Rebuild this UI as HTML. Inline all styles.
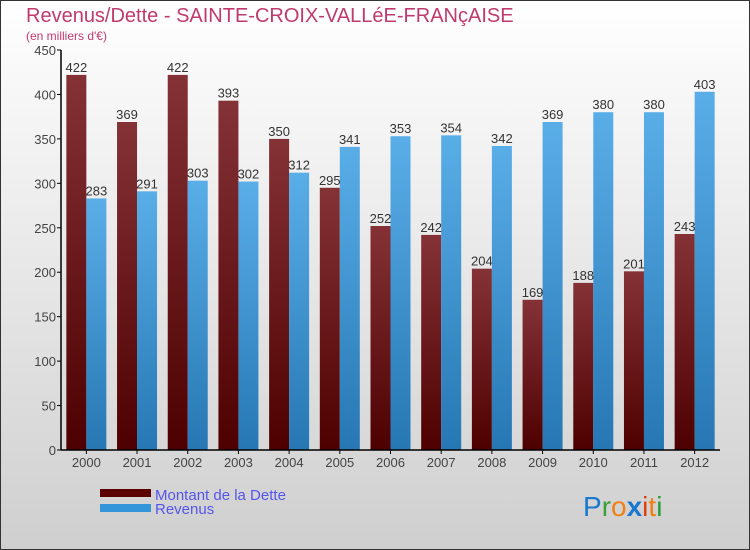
<!DOCTYPE html>
<html><head><meta charset="utf-8"><style>
body{margin:0}
#c{width:750px;height:550px;position:relative;overflow:hidden}
</style></head><body>
<div id="c">
<svg id="s" width="750" height="550" xmlns="http://www.w3.org/2000/svg" font-family="'Liberation Sans',sans-serif">
<defs>
<linearGradient id="bg" x1="0" y1="0" x2="0" y2="1"><stop offset="0" stop-color="#ffffff"/><stop offset="1" stop-color="#cfcfcf"/></linearGradient>
<linearGradient id="gd" x1="0" y1="0" x2="0" y2="1"><stop offset="0" stop-color="#843236"/><stop offset="1" stop-color="#4e0000"/></linearGradient>
<linearGradient id="gr" x1="0" y1="0" x2="0" y2="1"><stop offset="0" stop-color="#5aaee8"/><stop offset="1" stop-color="#2677b3"/></linearGradient>
</defs>
<rect x="0.5" y="0.5" width="749" height="549" fill="url(#bg)" stroke="#333"/>
<text x="26" y="22" font-size="20" fill="#c03a6e">Revenus/Dette - SAINTE-CROIX-VALLéE-FRANçAISE</text>
<text x="26" y="40" font-size="12" fill="#c03a6e">(en milliers d'€)</text>
<g id="plot"></g>
<g>
<rect x="100" y="489" width="51" height="8" fill="#5a0000"/>
<text x="155" y="500" font-size="15" fill="#5555ee">Montant de la Dette</text>
<rect x="100" y="504" width="51" height="8" fill="#3595db"/>
<text x="155" y="514" font-size="15" fill="#5555ee">Revenus</text>
</g>
<g font-size="28">
<text x="583" y="516"><tspan fill="#1a78d0">P</tspan><tspan fill="#3aa03a">r</tspan><tspan fill="#f08010">o</tspan><tspan fill="#1a78d0" font-weight="bold">x</tspan><tspan fill="#e04010">i</tspan><tspan fill="#f08010">t</tspan><tspan fill="#2a9a3a">i</tspan></text>
</g>
</svg>
</div>
<script>
const years=["2000","2001","2002","2003","2004","2005","2006","2007","2008","2009","2010","2011","2012"];
const dette=[422,369,422,393,350,295,252,242,204,169,188,201,243];
const revenus=[283,291,303,302,312,341,353,354,342,369,380,380,403];
const yTicks=[0,50,100,150,200,250,300,350,400,450];
const NS="http://www.w3.org/2000/svg";
const X0=61,X1=720,Y0=450,Y1=50,YMAX=450;
const band=(X1-X0)/years.length;
const y=v=>Y0-(v/YMAX)*(Y0-Y1);
const xc=i=>X0+band*(i+0.5);
const g=document.getElementById('plot');
function mk(t,a){const e=document.createElementNS(NS,t);for(const k in a)e.setAttribute(k,a[k]);g.appendChild(e);return e;}
yTicks.forEach(v=>{
  const l=mk('line',{x1:X0-4,x2:X0,y1:y(v),y2:y(v),stroke:'#000'});
  
  
  const t=mk('text',{x:X0-5,y:y(v)+5,'font-size':13,'text-anchor':'end',fill:'#444'});
  t.textContent=v;
  
  
});
years.forEach((yr,i)=>{
  const c=xc(i);
  const b1=mk('rect',{x:c-20,y:y(dette[i]),width:20,height:Y0-y(dette[i]),fill:'url(#gd)'});
  
  
  const b2=mk('rect',{x:c,y:y(revenus[i]),width:20,height:Y0-y(revenus[i]),fill:'url(#gr)'});
  
  
  const t1=mk('text',{x:c-10,y:y(dette[i])-3,'font-size':13,'text-anchor':'middle',fill:'#333'});
  t1.textContent=dette[i];
  
  
  const t2=mk('text',{x:c+10,y:y(revenus[i])-3,'font-size':13,'text-anchor':'middle',fill:'#333'});
  t2.textContent=revenus[i];
  
  
  const tk=mk('line',{x1:c,x2:c,y1:Y0,y2:Y0+4,stroke:'#000'});
  
  
  const tl=mk('text',{x:c,y:Y0+17,'font-size':13,'text-anchor':'middle',fill:'#444'});
  tl.textContent=yr;
  
  
});
const ya=mk('line',{x1:X0,x2:X0,y1:Y1,y2:Y0,stroke:'#000','stroke-width':1.5});


const xa=mk('line',{x1:X0,x2:X1,y1:Y0,y2:Y0,stroke:'#000','stroke-width':1.5});


</script>
</body></html>
